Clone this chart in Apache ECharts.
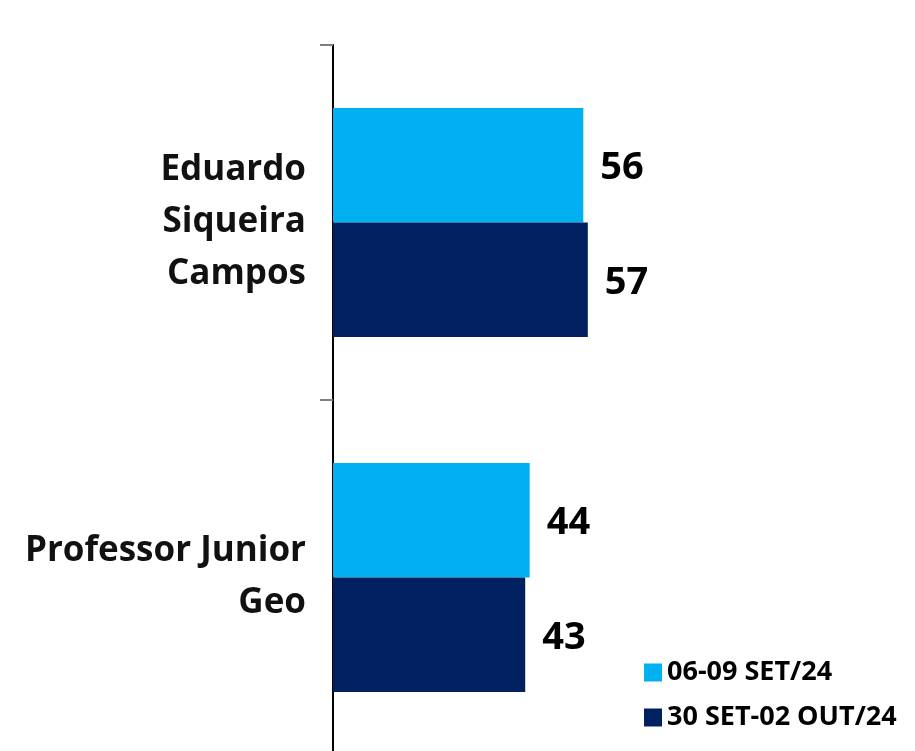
<!DOCTYPE html>
<html>
<head>
<meta charset="utf-8">
<script src="https://cdn.jsdelivr.net/npm/echarts@6/dist/echarts.min.js"></script>
<style>
  html, body { margin: 0; padding: 0; background: #fff; }
  #chart { width: 915px; height: 751px; }
</style>
</head>
<body>
<div id="chart"></div>
<script>
// candidatos e rodadas
var candidates = ['Eduardo\nSiqueira\nCampos', 'Professor Junior\nGeo'];
var waves = ['06-09 SET/24', '30 SET-02 OUT/24'];
var wave1 = [56, 44];
var wave2 = [57, 43];
var colors = ['#00B0F0', '#002060'];

var font = 'Open Sans';

var chart = echarts.init(document.getElementById('chart'));

var option = {
    backgroundColor: '#fff',
    animation: false,
    grid: { left: 333, width: 447, top: 45, height: 710, outerBoundsMode: 'none' },
    legend: {
        orient: 'vertical',
        left: 639,
        top: 654,
        itemWidth: 18,
        itemHeight: 18,
        itemGap: 18,
        icon: 'rect',
        textStyle: { fontFamily: font, fontWeight: 'bold', fontSize: 27, color: '#000' },
        data: waves
    },
    xAxis: {
        type: 'value',
        min: 0,
        max: 100,
        show: false
    },
    yAxis: {
        type: 'category',
        inverse: true,
        data: candidates,
        axisLine: { lineStyle: { color: '#000', width: 2 } },
        axisTick: { show: true, length: 13, lineStyle: { color: '#7f7f7f', width: 2 } },
        axisLabel: {
            margin: 27,
            fontFamily: font,
            fontWeight: 'bold',
            fontSize: 35,
            lineHeight: 52,
            padding: [7, 0, 0, 0],
            color: '#111',
            align: 'right'
        }
    },
    series: [
        {
            name: waves[0],
            type: 'bar',
            data: wave1,
            barGap: '0%',
            barCategoryGap: '35.5%',
            itemStyle: { color: colors[0] },
            label: { show: true, position: 'right', distance: 17, offset: [0, 3], fontFamily: font, fontWeight: 'bold', fontSize: 38, color: '#000' }
        },
        {
            name: waves[1],
            type: 'bar',
            data: wave2,
            barGap: '0%',
            barCategoryGap: '35.5%',
            itemStyle: { color: colors[1] },
            label: { show: true, position: 'right', distance: 17, offset: [0, 3], fontFamily: font, fontWeight: 'bold', fontSize: 38, color: '#000' }
        }
    ]
};

chart.setOption(option);
</script>
</body>
</html>
